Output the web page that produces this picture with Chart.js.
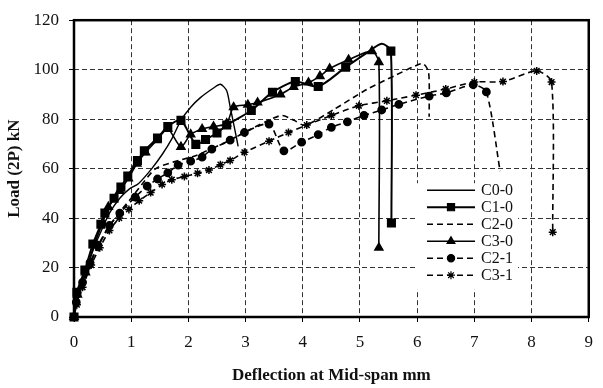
<!DOCTYPE html>
<html lang="en">
<head>
    <meta charset="UTF-8">
    <title>Load vs Deflection</title>
    <script src="https://cdn.jsdelivr.net/npm/chart.js"></script>
    <style>
        body { margin: 0; background: #fff; }
        #wrap { width: 603px; height: 388px; }
    </style>
</head>
<body>
    <div id="wrap">
        <canvas id="loadChart" width="603" height="388"></canvas>
    </div>

    <script>
        // Series values (deflection mm, load kN)
        const seriesNames = ['C0-0', 'C1-0', 'C2-0', 'C3-0', 'C2-1', 'C3-1'];

        const c00X = [0, 0.08, 0.2, 0.35, 0.5, 0.62, 0.8, 0.96, 1.13, 1.36, 1.55, 1.71, 1.87, 2.04, 2.21, 2.44, 2.56, 2.67, 2.73, 2.81, 2.87];
        const c00Y = [0, 8, 18, 28, 36, 42, 48, 51.6, 54, 60, 66, 72, 79.5, 84.8, 88.7, 92.6, 94.1, 91.5, 85, 76, 69];

        const c10X = [0, 0.05, 0.19, 0.33, 0.47, 0.54, 0.7, 0.82, 0.94, 1.11, 1.23, 1.46, 1.64, 1.87, 2.13, 2.3, 2.5, 2.67, 3.1, 3.47, 3.87, 4.27, 4.75, 5.1, 5.38, 5.54, 5.55];
        const c10Y = [0, 10, 19, 29.5, 37.5, 42, 48, 52.5, 57, 63.3, 67.2, 72.4, 77, 79.5, 69.8, 71.8, 74.4, 77.6, 83.5, 90.9, 95.2, 93.2, 101, 106.5, 110.5, 107.5, 38];

        const c20X = [0, 0.08, 0.2, 0.35, 0.55, 0.75, 1.0, 1.2, 1.43, 1.83, 2.1, 2.4, 2.7, 2.96, 3.18, 3.4, 3.64, 3.85, 4.04, 4.55, 5.12, 5.6, 5.92, 6.1, 6.2, 6.21];
        const c20Y = [0, 8, 16, 25, 34, 41, 48, 54, 60, 63.3, 65, 68, 71, 74.4, 77, 79.5, 81.5, 79.5, 77.5, 84, 92, 97.5, 101, 102.5, 99, 81];

        const c30X = [0, 0.06, 0.2, 0.35, 0.5, 0.6, 0.8, 0.95, 1.1, 1.25, 1.45, 1.64, 1.87, 2.04, 2.24, 2.44, 2.67, 2.79, 3.04, 3.21, 3.61, 3.84, 4.1, 4.3, 4.47, 4.8, 5.21, 5.33, 5.33];
        const c30Y = [0, 9, 18, 29, 38, 44.5, 51, 56, 62, 66.5, 71.5, 76, 68.8, 73.8, 76, 77, 78.3, 84.8, 85.8, 86.7, 90, 93, 94.8, 97.4, 100.4, 104, 107.5, 103, 28];

        const c21X = [0, 0.04, 0.15, 0.28, 0.42, 0.62, 0.8, 1.07, 1.28, 1.46, 1.64, 1.82, 2.04, 2.24, 2.41, 2.73, 2.98, 3.41, 3.67, 3.98, 4.27, 4.5, 4.78, 5.07, 5.38, 5.68, 6.21, 6.51, 6.98, 7.21, 7.45];
        const c21Y = [0, 6, 14, 22, 29, 37, 42, 48.5, 52.9, 55.8, 58.3, 61.4, 63, 64.6, 67.9, 71.5, 74.6, 78, 67.2, 70.7, 73.7, 76.7, 78.9, 81.5, 83.7, 86, 89.3, 90.6, 93.9, 91, 59];

        const c31X = [0, 0.05, 0.15, 0.3, 0.45, 0.62, 0.79, 0.96, 1.14, 1.34, 1.54, 1.71, 1.93, 2.16, 2.36, 2.56, 2.73, 2.98, 3.41, 3.75, 4.07, 4.5, 4.98, 5.47, 5.98, 6.5, 7.0, 7.5, 8.09, 8.35, 8.37];
        const c31Y = [0, 5, 12, 21, 28, 35, 40, 43.5, 47, 50.3, 53.6, 55.5, 56.8, 58.1, 59.4, 61.6, 63.3, 66.6, 71.1, 74.6, 77.6, 81.5, 85.4, 87.4, 89.7, 92.2, 95, 95.2, 99.5, 95, 34.3];

        const xTicks = [0, 1, 2, 3, 4, 5, 6, 7, 8, 9];
        const yTicks = [0, 20, 40, 60, 80, 100, 120];

        function pairs(xs, ys) {
            return xs.map((x, i) => ({ x: x, y: ys[i] }));
        }

        const serif = 'Liberation Serif, Times New Roman, serif';

        // Frame round the plot + legend inside the plot area
        const frameAndLegend = {
            id: 'frameAndLegend',
            afterDatasetsDraw(chart) {
                const ctx = chart.ctx;
                const a = chart.chartArea;
                ctx.save();
                ctx.strokeStyle = '#000';
                ctx.lineWidth = 2.5;
                ctx.setLineDash([]);
                ctx.strokeRect(a.left, a.top, a.right - a.left, a.bottom - a.top);

                // legend box
                const bx = a.left + 343, by = a.top + 163;
                ctx.fillStyle = '#fff';
                ctx.fillRect(bx, by, 101, 106);
                ctx.font = '16px ' + serif;
                ctx.textBaseline = 'middle';
                chart.data.datasets.forEach((ds, i) => {
                    const cy = by + 7 + i * 17;
                    const lx = bx + 10, rx = bx + 58;
                    ctx.strokeStyle = '#000';
                    ctx.lineWidth = ds.borderWidth;
                    ctx.setLineDash(ds.borderDash || []);
                    ctx.beginPath();
                    ctx.moveTo(lx, cy);
                    ctx.lineTo(rx, cy);
                    ctx.stroke();
                    ctx.setLineDash([]);
                    if (ds.markerSize > 0 && Chart.helpers && Chart.helpers.drawPoint) {
                        ctx.fillStyle = '#000';
                        ctx.lineWidth = 1.2;
                        Chart.helpers.drawPoint(ctx, {
                            pointStyle: ds.pointStyle,
                            radius: ds.markerSize,
                            rotation: 0,
                            borderWidth: 1.2
                        }, (lx + rx) / 2, cy);
                    }
                    ctx.fillStyle = '#111';
                    ctx.textAlign = 'left';
                    ctx.fillText(ds.label, rx + 6, cy + 1);
                });
                ctx.restore();
            }
        };

        // markerSize: marker radius; plainAt: point indexes drawn without a marker
        function line(label, xs, ys, opts) {
            const ds = Object.assign({
                label: label,
                data: pairs(xs, ys),
                borderColor: '#000',
                backgroundColor: '#000',
                pointBackgroundColor: '#000',
                pointBorderColor: '#000',
                borderWidth: 1.5,
                borderDash: [],
                markerSize: 0,
                plainAt: [],
                pointStyle: 'circle',
                tension: 0.25,
                clip: 8
            }, opts);
            ds.pointRadius = c => ds.plainAt.includes(c.dataIndex) ? 0 : ds.markerSize;
            return ds;
        }

        const ctx = document.getElementById('loadChart').getContext('2d');
        const loadChart = new Chart(ctx, {
            type: 'line',
            data: {
                datasets: [
                    line(seriesNames[0], c00X, c00Y, { borderWidth: 1.4 }),
                    line(seriesNames[1], c10X, c10Y, { borderWidth: 2, pointStyle: 'rect', markerSize: 5, plainAt: [23, 24] }),
                    line(seriesNames[2], c20X, c20Y, { borderWidth: 1.6, borderDash: [6, 4] }),
                    line(seriesNames[3], c30X, c30Y, { borderWidth: 1.6, pointStyle: 'triangle', markerSize: 4.5 }),
                    line(seriesNames[4], c21X, c21Y, { borderWidth: 1.6, borderDash: [6, 4], pointStyle: 'circle', markerSize: 3.6, plainAt: [30] }),
                    line(seriesNames[5], c31X, c31Y, { borderWidth: 1.6, borderDash: [6, 4], pointStyle: 'star', markerSize: 4, pointBorderWidth: 1.5 })
                ]
            },
            options: {
                responsive: false,
                animation: false,
                layout: { padding: { top: 12, right: 4, left: 0, bottom: 0 } },
                plugins: {
                    legend: { display: false },
                    tooltip: { enabled: false }
                },
                scales: {
                    x: {
                        type: 'linear',
                        min: 0,
                        max: 9,
                        afterBuildTicks: s => { s.ticks = xTicks.map(v => ({ value: v })); },
                        afterFit: s => { s.height = 71; },
                        grid: { color: '#333', lineWidth: 1, tickLength: 5, tickColor: '#000', tickWidth: 1 },
                        border: { display: false, dash: [5, 3] },
                        ticks: { color: '#111', font: { family: serif, size: 17 }, padding: 10, maxRotation: 0 },
                        title: {
                            display: true,
                            text: 'Deflection at Mid-span mm',
                            color: '#111',
                            font: { family: serif, size: 17, weight: 'bold' },
                            padding: { top: 0, bottom: 2 }
                        }
                    },
                    y: {
                        min: 0,
                        max: 120,
                        afterBuildTicks: s => { s.ticks = yTicks.map(v => ({ value: v })); },
                        afterFit: s => { s.width = 74; },
                        grid: { color: '#333', lineWidth: 1, tickLength: 5, tickColor: '#000', tickWidth: 1 },
                        border: { display: false, dash: [5, 3] },
                        ticks: { color: '#111', font: { family: serif, size: 17 }, padding: 10 },
                        title: {
                            display: true,
                            text: 'Load (2P) kN',
                            color: '#111',
                            font: { family: serif, size: 17, weight: 'bold' },
                            padding: { top: 4, bottom: 0 }
                        }
                    }
                }
            },
            plugins: [frameAndLegend]
        });
    </script>
</body>
</html>
